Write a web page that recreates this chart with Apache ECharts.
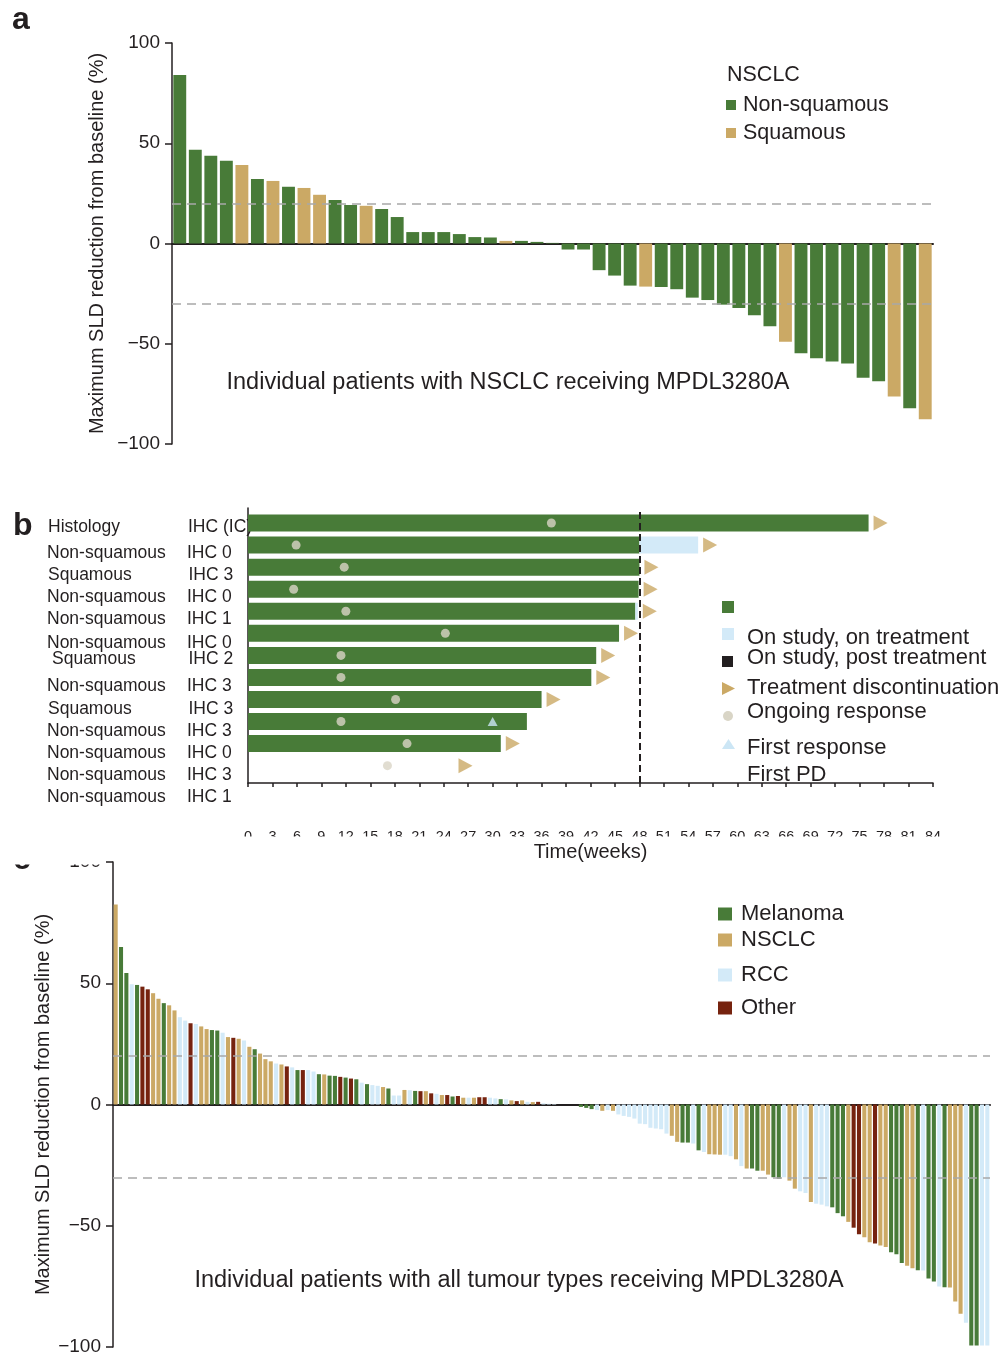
<!DOCTYPE html>
<html>
<head>
<meta charset="utf-8">
<script src="https://cdn.jsdelivr.net/npm/echarts@6.0.0/dist/echarts.min.js"></script>
<style>
  html, body { margin: 0; padding: 0; background: #fff; }
  #chart { width: 1003px; height: 1357px; }
</style>
</head>
<body>
<div id="chart"></div>
<script>
// ---------- Panel a: best change in tumour size, NSCLC ----------
const nsclcValues = [
  84.0, 46.7, 43.8, 41.3, 39.2, 32.2, 31.2, 28.3, 27.7, 24.3,
  21.7, 19.2, 18.8, 17.2, 13.2, 5.7, 5.7, 5.7, 4.7, 3.2,
  3.0, 1.3, 1.3, 0.8, 0.3, -3.0, -3.0, -13.3, -16.0, -21.0,
  -21.5, -21.7, -22.8, -27.0, -28.2, -30.5, -32.2, -35.8, -41.3, -49.0,
  -54.7, -57.2, -58.8, -59.8, -67.0, -68.7, -76.3, -82.2, -87.7
];
// N = non-squamous, S = squamous
const nsclcHistology = [
  'N','N','N','N','S','N','S','N','S','S',
  'N','N','S','N','N','N','N','N','N','N',
  'N','S','N','N','N','N','N','N','N','N',
  'S','N','N','N','N','N','N','N','N','S',
  'N','N','N','N','N','N','S','N','S'
];
const responseThresholds = [20, -30];
const sldAxis = { min: -100, max: 100, step: 50 };

// ---------- Panel b: time on study, responders ----------
const patientHistology = [
  'Non-squamous', 'Squamous', 'Non-squamous', 'Non-squamous', 'Non-squamous', 'Squamous',
  'Non-squamous', 'Squamous', 'Non-squamous', 'Non-squamous', 'Non-squamous', 'Non-squamous'
];
const patientIHC = ['IHC 0', 'IHC 3', 'IHC 0', 'IHC 1', 'IHC 0', 'IHC 2', 'IHC 3', 'IHC 3', 'IHC 3', 'IHC 0', 'IHC 3', 'IHC 1'];
const weeksTreated = [76.1, 48.0, 48.0, 47.9, 47.5, 45.5, 42.7, 42.1, 36.0, 34.2, 31.0, null];
const weeksOnTreatmentExtra = [null, 7.2, null, null, 0.3, null, null, null, null, null, null, null];
const discontinuationWeek = [76.1, 55.2, 48.0, 47.9, 47.8, 45.5, 42.7, 42.1, 36.0, null, 31.0, 25.2];
const ongoingResponseWeek = [37.2, 5.9, 11.8, 5.6, 12.0, 24.2, 11.4, 11.4, 18.1, 11.4, 19.5, 17.1];
const firstResponseWeek = [null, null, null, null, null, null, null, null, null, 30.0, null, null];
const weekAxis = { min: 0, max: 84, step: 3 };
const landmarkWeek = 48;
const swimLegendLabels = ['On study, on treatment', 'On study, post treatment', 'Treatment discontinuation',
  'Ongoing response', 'First response', 'First PD'];

// ---------- Panel c: best change in tumour size, all tumour types ----------
const allValues = [
  82.5, 65.0, 54.2, 49.6, 49.3, 48.6, 47.5, 45.9, 43.6, 41.8,
  40.9, 38.8, 36.0, 34.6, 33.5, 33.2, 32.2, 31.1, 30.7, 30.5,
  29.6, 27.8, 27.5, 27.1, 26.4, 23.8, 22.8, 21.0, 18.7, 17.8,
  16.9, 16.5, 15.7, 15.3, 14.2, 14.2, 14.2, 13.6, 12.5, 12.4,
  11.9, 11.8, 11.4, 11.1, 10.7, 10.4, 9.0, 8.4, 8.0, 7.7,
  7.2, 6.6, 3.7, 3.7, 6.0, 5.9, 5.6, 5.5, 5.5, 4.6,
  4.4, 3.9, 3.9, 3.3, 3.5, 2.8, 2.8, 2.8, 3.0, 3.0,
  2.8, 2.5, 2.2, 2.1, 1.7, 1.4, 1.7, 1.1, 1.0, 1.1,
  0.5, 0.3, 0.2, 0, 0, 0, 0, -1.0, -1.4, -1.9,
  -2.3, -2.6, -2.3, -2.6, -4.1, -4.7, -5.1, -5.8, -7.9, -8.1,
  -9.6, -9.9, -10.2, -12.0, -12.9, -15.4, -15.7, -15.7, -16.1, -18.9,
  -19.6, -20.5, -20.6, -20.7, -20.7, -21.3, -22.6, -25.4, -26.4, -26.4,
  -27.3, -27.3, -28.9, -30.0, -30.6, -30.0, -31.4, -34.7, -35.8, -36.5,
  -40.2, -40.9, -41.3, -42.0, -42.4, -44.8, -46.1, -48.4, -50.8, -53.5,
  -54.7, -56.8, -57.3, -58.1, -58.8, -60.9, -61.8, -65.4, -66.5, -67.5,
  -68.3, -68.5, -71.8, -73.0, -75.0, -75.4, -75.5, -81.2, -86.3, -90.0,
  -99.4, -99.4, -99.4, -99.4
];
// M = melanoma, N = NSCLC, R = RCC, O = other
const allTypes = [
  'N','M','M','R','M','O','O','N','N','M',
  'N','N','R','R','O','R','N','N','M','M',
  'R','N','O','N','R','N','M','N','N','N',
  'R','N','O','R','M','O','R','R','M','N',
  'M','M','O','M','O','M','R','M','R','R',
  'N','M','R','R','N','R','M','O','N','O',
  'R','N','O','M','O','N','R','N','O','O',
  'R','R','M','R','N','O','N','R','N','O',
  'R','R','R','R','R','R','R','M','M','M',
  'R','N','R','N','R','R','R','R','R','R',
  'R','R','R','R','N','N','M','M','R','M',
  'R','N','N','N','R','R','N','R','N','M',
  'M','N','N','M','M','R','N','N','R','R',
  'N','R','R','R','M','M','M','N','O','O',
  'N','N','O','N','N','M','M','M','N','N',
  'M','R','M','M','R','M','N','N','N','R',
  'M','M','R','R'
];
const tumourTypes = [
  { code: 'M', name: 'Melanoma' },
  { code: 'N', name: 'NSCLC' },
  { code: 'R', name: 'RCC' },
  { code: 'O', name: 'Other' }
];

// ---------- styling ----------
const GREEN = '#487b38';
const TAN = '#cba965';
const LBLUE = '#d3eaf8';
const BROWN = '#76230f';
const DOT = '#d9d5c6';
const DASH = '#a8a8a8';
const INK = '#231f20';
const FONT = "'Liberation Sans', Arial, Helvetica, sans-serif";
const typeColor = { M: GREEN, N: TAN, R: LBLUE, O: BROWN };

const minusFmt = v => (v < 0 ? '\u2212' + Math.abs(v) : String(v));

function txt(text, x, y, size, opts) {
  opts = opts || {};
  const align = opts.align || 'left';
  return {
    type: 'text', x: x, y: y, z: opts.z != null ? opts.z : 50,
    style: {
      text: text, fill: opts.color || INK,
      font: (opts.weight || 'normal') + ' ' + size + 'px ' + FONT,
      textAlign: align, align: align,
      textVerticalAlign: 'middle', verticalAlign: 'middle'
    }
  };
}

const sldYAxis = (grid, gap) => ({
  gridIndex: grid, type: 'value', min: sldAxis.min, max: sldAxis.max, interval: sldAxis.step,
  name: 'Maximum SLD reduction from baseline (%)', nameLocation: 'middle', nameGap: gap,
  nameMoveOverlap: false,
  nameTextStyle: { fontSize: 20, color: INK, fontFamily: FONT },
  axisLine: { show: true, lineStyle: { color: INK, width: 1.5 } },
  axisTick: { show: true, length: 7, lineStyle: { color: INK, width: 1.5 } },
  axisLabel: { fontSize: 19, color: INK, margin: 12, formatter: minusFmt, fontFamily: FONT },
  splitLine: { show: false }
});

const waterfallXAxis = (grid, n) => ({
  gridIndex: grid, type: 'category', data: Array.from({ length: n }, (_, i) => String(i + 1)),
  axisLine: { onZero: true, lineStyle: { color: INK, width: 2 } },
  axisTick: { show: false }, axisLabel: { show: false }, splitLine: { show: false }
});

const thresholdLines = (xi, yi) => ({
  type: 'line', xAxisIndex: xi, yAxisIndex: yi, data: [], z: 10, silent: true,
  markLine: {
    silent: true, symbol: 'none', label: { show: false },
    lineStyle: { color: DASH, type: [9, 6], width: 1.6 },
    data: responseThresholds.map(v => ({ yAxis: v }))
  }
});

// ----- series -----
const series = [];

// panel a bars
[['N', 'Non-squamous', GREEN], ['S', 'Squamous', TAN]].forEach(([code, name, color]) => {
  series.push({
    type: 'bar', name: name, xAxisIndex: 0, yAxisIndex: 0,
    data: nsclcValues.map((v, i) => (nsclcHistology[i] === code ? v : '-')),
    itemStyle: { color: color }, barGap: '-100%', barCategoryGap: '17%'
  });
});
series.push(thresholdLines(0, 0));

// panel b swimmer bars and markers
series.push({
  type: 'bar', name: 'Time on treatment', xAxisIndex: 1, yAxisIndex: 1, stack: 'swim', barWidth: 17,
  data: weeksTreated.map(v => (v == null ? '-' : v)), itemStyle: { color: GREEN }
});
series.push({
  type: 'bar', name: 'On study, on treatment', xAxisIndex: 1, yAxisIndex: 1, stack: 'swim', barWidth: 17,
  data: weeksOnTreatmentExtra.map(v => (v == null ? '-' : v)), itemStyle: { color: LBLUE }
});
const rowPoints = arr => arr.map((w, i) => (w == null ? null : [w, i])).filter(Boolean);
series.push({
  type: 'scatter', name: 'Treatment discontinuation', xAxisIndex: 1, yAxisIndex: 1,
  symbol: 'triangle', symbolRotate: -90, symbolSize: [15, 14], symbolOffset: [12, 0],
  itemStyle: { color: TAN }, data: rowPoints(discontinuationWeek), z: 4
});
series.push({
  type: 'scatter', name: 'Ongoing response', xAxisIndex: 1, yAxisIndex: 1,
  symbol: 'circle', symbolSize: 9, itemStyle: { color: DOT }, data: rowPoints(ongoingResponseWeek), z: 4
});
series.push({
  type: 'scatter', name: 'First response', xAxisIndex: 1, yAxisIndex: 1,
  symbol: 'triangle', symbolSize: [10, 9], itemStyle: { color: '#cce6f5' }, data: rowPoints(firstResponseWeek), z: 4
});
series.push({
  type: 'line', xAxisIndex: 2, yAxisIndex: 2, data: [], z: 10, silent: true,
  markLine: {
    silent: true, symbol: 'none', label: { show: false },
    lineStyle: { color: INK, type: [7, 4], width: 2 },
    data: [{ xAxis: landmarkWeek }]
  }
});

// panel c bars
tumourTypes.forEach(t => {
  series.push({
    type: 'bar', name: t.name, xAxisIndex: 3, yAxisIndex: 3,
    data: allValues.map((v, i) => (allTypes[i] === t.code ? v : '-')),
    itemStyle: { color: typeColor[t.code] }, barGap: '-100%', barCategoryGap: '24%'
  });
});
series.push(thresholdLines(3, 3));

// ----- text, legends drawn as graphics -----
const graphics = [];
graphics.push(txt('a', 12, 20, 32, { weight: 'bold' }));
graphics.push(txt('NSCLC', 727, 75, 21.5));
graphics.push(txt('Individual patients with NSCLC receiving MPDL3280A', 508, 383, 23.5, { align: 'center' }));

graphics.push(txt('b', 13, 526, 32, { weight: 'bold' }));
graphics.push(txt('Histology', 48, 527, 17.5));
graphics.push(txt('IHC (IC)', 188, 527, 17.5, { z: 1 }));
const rowLabelY = [552.7, 575, 596.7, 619, 642.7, 659.3, 686, 709.3, 730.7, 753.3, 775, 796.7];
const rowLabelX = [47, 48, 47, 47, 47, 52, 47, 48, 47, 47, 47, 47];
patientHistology.forEach((h, i) => {
  graphics.push(txt(h, rowLabelX[i], rowLabelY[i], 17.5));
  graphics.push(txt(patientIHC[i], h === 'Squamous' ? 188.5 : 187, rowLabelY[i], 17.5));
});

// swimmer key
graphics.push({ type: 'rect', shape: { x: 722, y: 601, width: 12, height: 12 }, style: { fill: GREEN }, z: 50 });
graphics.push({ type: 'rect', shape: { x: 722, y: 628, width: 12, height: 12 }, style: { fill: LBLUE }, z: 50 });
graphics.push({ type: 'rect', shape: { x: 722, y: 656, width: 11, height: 11 }, style: { fill: INK }, z: 50 });
graphics.push({ type: 'polygon', shape: { points: [[722, 682], [735, 688.5], [722, 695]] }, style: { fill: TAN }, z: 50 });
graphics.push({ type: 'circle', shape: { cx: 728, cy: 716, r: 5 }, style: { fill: DOT }, z: 50 });
graphics.push({ type: 'polygon', shape: { points: [[722, 749], [728.5, 739], [735, 749]] }, style: { fill: '#cce6f5' }, z: 50 });
const swimLegendY = [638, 658, 688, 712, 748, 775];
swimLegendLabels.forEach((s, i) => graphics.push(txt(s, 747, swimLegendY[i], 22)));

// panel b axis labels are cut through the middle; panel c's top edge is cut too
graphics.push({ type: 'rect', shape: { x: 236, y: 836.5, width: 720, height: 6 }, style: { fill: '#fff' }, z: 100 });
graphics.push(txt('c', 13, 860, 32, { weight: 'bold' }));
graphics.push({ type: 'rect', shape: { x: 0, y: 843, width: 106, height: 21.5 }, style: { fill: '#fff' }, z: 100 });
graphics.push(txt('Individual patients with all tumour types receiving MPDL3280A', 519, 1281, 23.5, { align: 'center' }));

const legendItem = (name, left, top, w, h, size, pad) => ({
  data: [name], left: left, top: top, orient: 'vertical', padding: 0,
  itemWidth: w, itemHeight: h, icon: 'rect', selectedMode: false,
  textStyle: { fontSize: size, color: INK, fontFamily: FONT, padding: [0, 0, 0, pad] }
});

const option = {
  animation: false,
  backgroundColor: '#ffffff',
  textStyle: { fontFamily: FONT },
  grid: [
    { left: 172, top: 43, width: 761, height: 401 },
    { left: 248, top: 512, width: 685, height: 264.7 },
    { left: 248, top: 508, width: 685, height: 275 },
    { left: 113, top: 862, width: 877, height: 485 }
  ],
  xAxis: [
    waterfallXAxis(0, nsclcValues.length),
    { gridIndex: 1, type: 'value', min: weekAxis.min, max: weekAxis.max, show: false },
    {
      gridIndex: 2, type: 'value', min: weekAxis.min, max: weekAxis.max, interval: weekAxis.step,
      name: 'Time(weeks)', nameLocation: 'middle', nameGap: 59, nameMoveOverlap: false,
      nameTextStyle: { fontSize: 20, color: INK, fontFamily: FONT },
      axisLine: { lineStyle: { color: INK, width: 1.5 } },
      axisTick: { length: 4, lineStyle: { color: INK, width: 1.5 } },
      axisLabel: { margin: 46, fontSize: 14.5, color: INK, fontFamily: FONT },
      splitLine: { show: false }
    },
    waterfallXAxis(3, allValues.length)
  ],
  yAxis: [
    sldYAxis(0, 65),
    { gridIndex: 1, type: 'category', inverse: true, data: patientIHC.map((_, i) => 'row' + (i + 1)), show: false },
    {
      gridIndex: 2, type: 'value', min: 0, max: 1,
      axisLine: { show: true, lineStyle: { color: INK, width: 1.5 } },
      axisTick: { show: false }, axisLabel: { show: false }, splitLine: { show: false }
    },
    sldYAxis(3, 60)
  ],
  legend: [
    legendItem('Non-squamous', 726, 94, 10, 10, 21.5, 2),
    legendItem('Squamous', 726, 122, 10, 10, 21.5, 2),
    legendItem('Melanoma', 718, 903, 14, 13, 22, 4),
    legendItem('NSCLC', 718, 929, 14, 13, 22, 4),
    legendItem('RCC', 718, 964, 14, 13, 22, 4),
    legendItem('Other', 718, 997, 14, 13, 22, 4)
  ],
  graphic: { elements: graphics },
  series: series
};

const chart = echarts.init(document.getElementById('chart'), null, { renderer: 'canvas' });
chart.setOption(option);
</script>
</body>
</html>
